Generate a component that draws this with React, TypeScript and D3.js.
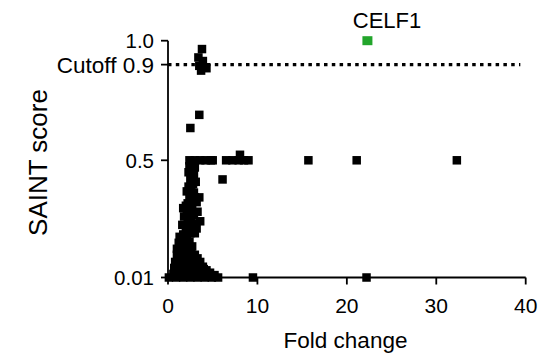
import React from "react";
import * as d3 from "d3";

const xTicks = [0, 10, 20, 30, 40];
const yTicks = [
  { v: 1.0, label: "1.0" },
  { v: 0.9, label: "Cutoff 0.9" },
  { v: 0.5, label: "0.5" },
  { v: 0.01, label: "0.01" },
];
const cutoff = 0.9;
const cutoffEnd = 39.4;

const highlightName = ["CELF1"];
const highlightFold = [22.3];
const highlightScore = [1.0];

const foldChange = [
  3.8, 3.4, 3.9, 3.5, 4.3, 3.7,
  3.5, 2.5,
  2.4, 3.0, 3.6, 4.2, 4.8, 5.0, 6.5, 7.2, 8.05, 7.9, 8.5, 9.0, 15.7, 21.1, 32.3,
  2.4, 3.0, 2.3, 2.9, 2.5, 3.1, 2.3, 6.1,
  2.7, 2.6, 2.8, 2.6,
  2.1, 2.9, 3.5, 2.4, 3.2, 2.0,
  2.6, 3.0, 2.2, 2.7,
  1.7, 2.5, 3.3, 1.8, 2.6, 3.6, 1.6, 2.4, 3.2, 2.0, 3.0,
  2.1, 2.9, 2.2, 3.0, 2.8, 2.5,
  1.3, 2.1, 1.2, 2.0, 2.7,
  1.7, 1.6, 2.4, 1.5, 2.3,
  1.0, 1.8, 2.6, 1.0, 1.8, 2.7, 3.3,
  1.4, 2.2, 3.0, 1.4, 2.2, 3.0, 3.6,
  0.8, 1.6, 2.4, 3.2, 3.9, 0.7, 1.5, 2.3, 3.1, 4.3,
  1.2, 2.0, 2.8, 3.5, 4.7, 1.1, 1.9, 2.7, 3.5, 4.0,
  0.1, 0.9, 1.7, 2.5, 3.3, 4.1, 4.9, 5.6, 0.6, 1.4, 2.2, 3.0, 3.8, 4.6, 5.2,
  9.5, 22.2,
];
const saintScore = [
  0.965, 0.93, 0.915, 0.895, 0.885, 0.875,
  0.69, 0.635,
  0.5, 0.5, 0.5, 0.5, 0.5, 0.5, 0.5, 0.5, 0.523, 0.5, 0.5, 0.5, 0.5, 0.5, 0.5,
  0.475, 0.47, 0.45, 0.44, 0.42, 0.41, 0.39, 0.42,
  0.485, 0.435, 0.4, 0.38,
  0.37, 0.365, 0.345, 0.34, 0.325, 0.31,
  0.355, 0.345, 0.32, 0.31,
  0.3, 0.29, 0.285, 0.265, 0.255, 0.245, 0.23, 0.225, 0.215, 0.2, 0.195,
  0.28, 0.27, 0.245, 0.235, 0.21, 0.195,
  0.18, 0.175, 0.155, 0.15, 0.14,
  0.19, 0.165, 0.16, 0.14, 0.135,
  0.13, 0.125, 0.12, 0.105, 0.1, 0.095, 0.09,
  0.115, 0.11, 0.105, 0.09, 0.085, 0.08, 0.075,
  0.075, 0.07, 0.07, 0.065, 0.055, 0.05, 0.045, 0.045, 0.04, 0.04,
  0.06, 0.06, 0.055, 0.05, 0.03, 0.035, 0.035, 0.035, 0.035, 0.045,
  0.01, 0.01, 0.01, 0.01, 0.01, 0.01, 0.01, 0.01, 0.025, 0.025, 0.025, 0.025, 0.025, 0.025, 0.02,
  0.01, 0.01,
];

const FONT = "'Liberation Sans', Arial, Helvetica, sans-serif";

export default function App() {
  const x = d3.scaleLinear().domain([0, 40]).range([168, 525.7]);
  const y = d3.scaleLinear().domain([0.01, 1.0]).range([277.5, 40.7]);
  const sq = 8.5;
  const pts = foldChange.map((f, i) => ({ f, s: saintScore[i] }));
  return (
    <svg
      width={542}
      height={353}
      style={{ position: "absolute", left: 0, top: 0, background: "#fff" }}
    >
      <line
        x1={x(0)}
        x2={x(cutoffEnd)}
        y1={y(cutoff)}
        y2={y(cutoff)}
        stroke="#000"
        strokeWidth={3.2}
        strokeDasharray="3.5 4.3"
      />
      <line x1={x(0)} x2={x(0)} y1={y(1.0)} y2={y(0.01)} stroke="#000" strokeWidth={1.8} />
      <line x1={x(0)} x2={x(40)} y1={y(0.01)} y2={y(0.01)} stroke="#000" strokeWidth={1.8} />
      {yTicks.map((t) => (
        <g key={t.label}>
          <line x1={x(0) - 7} x2={x(0)} y1={y(t.v)} y2={y(t.v)} stroke="#000" strokeWidth={1.8} />
          <text
            x={x(0) - 14}
            y={y(t.v)}
            dy="0.36em"
            textAnchor="end"
            fontFamily={FONT}
            fontSize={t.label.startsWith("Cutoff") ? 22.5 : 20.5}
            fill="#000"
          >
            {t.label}
          </text>
        </g>
      ))}
      {xTicks.map((t) => (
        <g key={t}>
          <line x1={x(t)} x2={x(t)} y1={y(0.01)} y2={y(0.01) + 7} stroke="#000" strokeWidth={1.8} />
          <text
            x={x(t)}
            y={313}
            textAnchor="middle"
            fontFamily={FONT}
            fontSize={21}
            fill="#000"
          >
            {t}
          </text>
        </g>
      ))}
      <text x={345.5} y={348} textAnchor="middle" fontFamily={FONT} fontSize={22.5} fill="#000">
        Fold change
      </text>
      <text
        transform={`translate(47,162.5) rotate(-90)`}
        textAnchor="middle"
        fontFamily={FONT}
        fontSize={26}
        fill="#000"
      >
        SAINT score
      </text>
      {pts.map((p, i) => (
        <rect
          key={i}
          x={x(p.f) - sq / 2}
          y={y(p.s) - sq / 2}
          width={sq}
          height={sq}
          fill="#000"
        />
      ))}
      {highlightName.map((n, i) => (
        <g key={n}>
          <rect
            x={x(highlightFold[i]) - 5}
            y={y(highlightScore[i]) - 4.5}
            width={10}
            height={9}
            fill="#22a52b"
          />
          <text
            x={387}
            y={28}
            textAnchor="middle"
            fontFamily={FONT}
            fontSize={22}
            fill="#000"
          >
            {n}
          </text>
        </g>
      ))}
    </svg>
  );
}
